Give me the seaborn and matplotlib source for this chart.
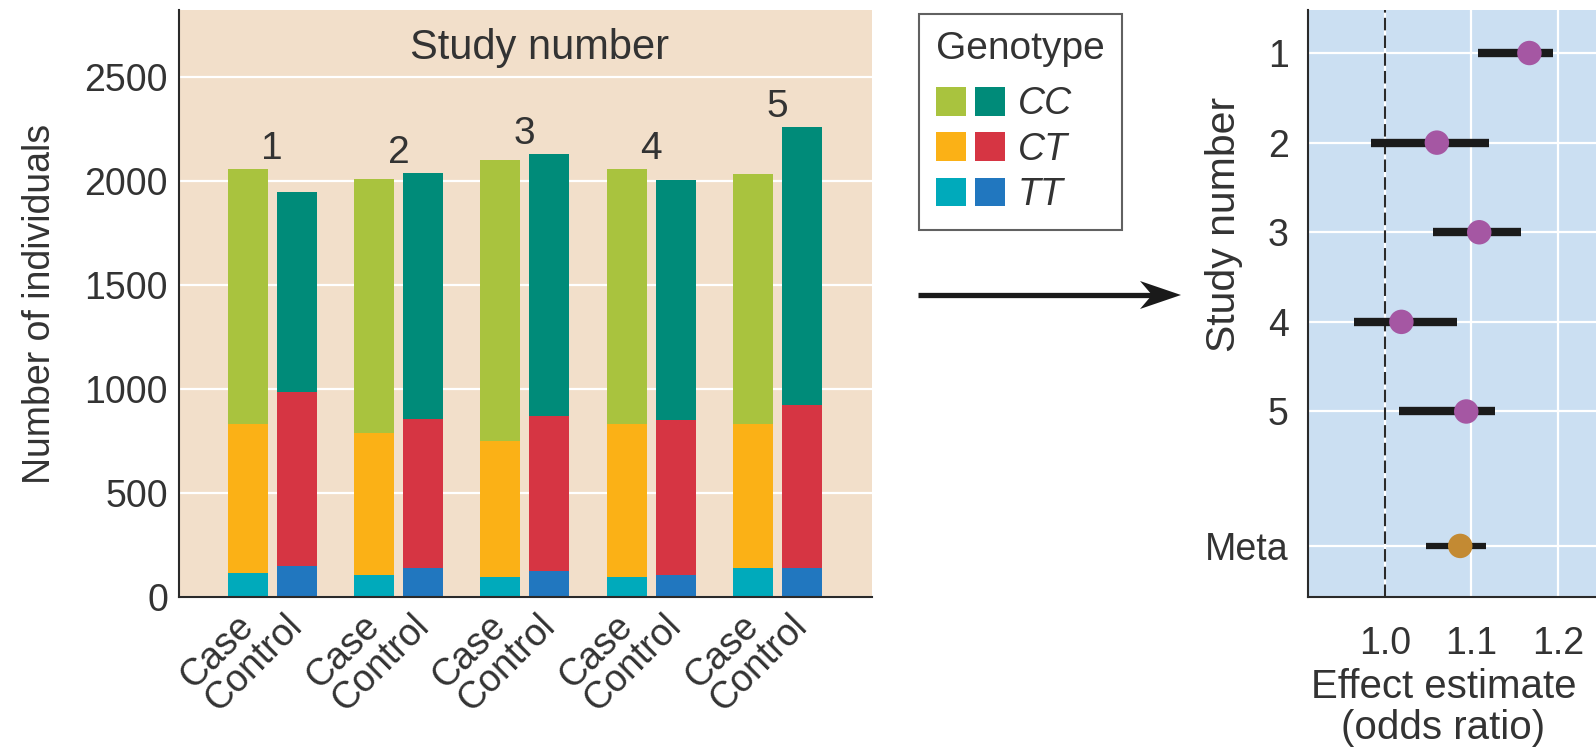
import matplotlib
matplotlib.use("Agg")
import matplotlib.pyplot as plt
import numpy as np
import pandas as pd
import seaborn as sns
from matplotlib.patches import Patch, Polygon
from matplotlib.lines import Line2D
from matplotlib.legend_handler import HandlerTuple

# ---- genotype counts per study ----
studies = ["1", "2", "3", "4", "5"]
case_tt = [115, 105, 97, 96, 137]
case_ct = [717, 685, 651, 733, 692]
case_cc = [1225, 1216, 1349, 1226, 1203]
control_tt = [147, 137, 125, 107, 137]
control_ct = [838, 718, 746, 743, 783]
control_cc = [960, 1183, 1257, 1152, 1340]

# ---- per-study effect estimates (odds ratio with CI) ----
forest_labels = ["1", "2", "3", "4", "5", "Meta"]
odds_ratio = [1.167, 1.060, 1.109, 1.019, 1.094, 1.087]
ci_low = [1.107, 0.984, 1.056, 0.964, 1.016, 1.048]
ci_high = [1.194, 1.120, 1.157, 1.083, 1.127, 1.117]

case_colors = {"CC": "#A9C33E", "CT": "#FBB116", "TT": "#00AABB"}
control_colors = {"CC": "#008B79", "CT": "#D63543", "TT": "#2177BF"}

sns.set_theme(style="white")
plt.rcParams["font.family"] = ["Liberation Sans", "DejaVu Sans"]
TXT = "#333333"
DARK = "#2a2a2a"
FS = 27

W, H = 1596, 748
fig = plt.figure(figsize=(W / 100, H / 100), dpi=100)


def rect(l, t, r, b):
    return [l / W, 1 - b / H, (r - l) / W, (b - t) / H]


def fx(px):
    return px / W


def fy(py):
    return 1 - py / H


ax1 = fig.add_axes(rect(179, 10, 872, 597))
ax2 = fig.add_axes(rect(1308, 10, 1596, 597))

# ---- stacked genotype bars ----
rows = []
for i, s in enumerate(studies):
    rows.append(dict(Study=s, Group="Case", TT=case_tt[i], CT=case_ct[i], CC=case_cc[i]))
    rows.append(dict(Study=s, Group="Control", TT=control_tt[i], CT=control_ct[i], CC=control_cc[i]))
df = pd.DataFrame(rows)
df["CT_top"] = df["TT"] + df["CT"]
df["total"] = df["CT_top"] + df["CC"]

for col, geno in [("total", "CC"), ("CT_top", "CT"), ("TT", "TT")]:
    sns.barplot(
        data=df, x="Study", y=col, hue="Group", order=studies,
        hue_order=["Case", "Control"],
        palette={"Case": case_colors[geno], "Control": control_colors[geno]},
        width=0.776, gap=0.18, dodge=True, errorbar=None, saturation=1,
        linewidth=0, legend=False, ax=ax1,
    )

ax1.set_facecolor("#F2DFCA")
ax1.set_xlim(-0.738, 4.749)
ax1.set_ylim(0, 2820)
ax1.set_yticks(np.arange(0, 2501, 500))
ax1.yaxis.grid(True, color="white", lw=1.6)
ax1.xaxis.grid(False)
ax1.set_axisbelow(True)

off = 0.194
xt = [i + d for i in range(len(studies)) for d in (-off, off)]
ax1.set_xticks(xt)
ax1.set_xticklabels(["Case", "Control"] * len(studies), rotation=45,
                    ha="right", va="center", rotation_mode="anchor",
                    fontsize=FS, color=TXT)
ax1.tick_params(axis="x", length=0, pad=17)
ax1.tick_params(axis="y", direction="in", length=14, width=1.5, color=DARK,
                pad=8, labelsize=FS, labelcolor=TXT)
for sp in ["top", "right"]:
    ax1.spines[sp].set_visible(False)
for sp in ["left", "bottom"]:
    ax1.spines[sp].set_color(DARK)
    ax1.spines[sp].set_linewidth(1.5)
ax1.set_xlabel("")
ax1.set_ylabel("Number of individuals", fontsize=FS, color=TXT)
ax1.yaxis.set_label_coords(-0.174, 0.5)

totals = df.pivot(index="Study", columns="Group", values="total").loc[studies]
for i, s in enumerate(studies):
    ax1.text(i, totals.loc[s].max() + 95, s, ha="center", va="center",
             fontsize=28, color=TXT)
ax1.text(2.12, 2638, "Study number", ha="center", va="center", fontsize=30, color=TXT)

# ---- forest plot ----
ypos = list(range(1, 6)) + [6.5]
ax2.set_facecolor("#CBDFF2")
ax2.grid(True, color="white", lw=1.6)
ax2.set_axisbelow(True)
ax2.axvline(1.0, color=DARK, lw=1.5, ls=(0, (6, 2.5)), zorder=1.5)
ax2.hlines(ypos[:5], ci_low[:5], ci_high[:5], color="#1b1b1b", lw=6, zorder=3)
ax2.hlines(ypos[5:], ci_low[5:], ci_high[5:], color="#1b1b1b", lw=4.5, zorder=3)
sns.scatterplot(x=odds_ratio[:5], y=ypos[:5], color="#A557A3", s=310,
                edgecolor="none", zorder=4, ax=ax2)
sns.scatterplot(x=odds_ratio[5:], y=ypos[5:], color="#C38A33", s=310,
                edgecolor="none", zorder=4, ax=ax2)
ax2.set_xlim(0.911, 1.244)
ax2.set_ylim(7.07, 0.52)
ax2.set_xticks([1.0, 1.1, 1.2])
ax2.set_xticklabels(["1.0", "1.1", "1.2"])
ax2.set_yticks(ypos)
ax2.set_yticklabels(forest_labels)
ax2.tick_params(axis="both", direction="in", length=15, width=1.5, color=DARK,
                labelsize=FS, labelcolor=TXT)
ax2.tick_params(axis="y", pad=14)
ax2.tick_params(axis="x", pad=21)
for sp in ["top", "right"]:
    ax2.spines[sp].set_visible(False)
for sp in ["left", "bottom"]:
    ax2.spines[sp].set_color(DARK)
    ax2.spines[sp].set_linewidth(1.5)
ax2.set_ylabel("Study number", fontsize=29.5, color=TXT)
ax2.yaxis.set_label_coords(-0.226, 0.635)
ax2.set_xlabel("Effect estimate\n(odds ratio)", fontsize=29, color=TXT,
               linespacing=1.1)
ax2.xaxis.label.set_x(0.47)

# ---- genotype legend ----
handles = [(Patch(facecolor=case_colors[g], edgecolor="none"),
            Patch(facecolor=control_colors[g], edgecolor="none")) for g in ["CC", "CT", "TT"]]
leg = fig.legend(handles, ["CC", "CT", "TT"],
                 handler_map={tuple: HandlerTuple(ndivide=None, pad=0.25)},
                 title="Genotype", loc="upper left",
                 bbox_to_anchor=(fx(919), fy(14)), bbox_transform=fig.transFigure,
                 borderaxespad=0, frameon=True, fancybox=False, edgecolor="#3a3a3a",
                 prop={"style": "italic", "size": FS}, title_fontsize=28,
                 handlelength=1.84, handleheight=0.8, handletextpad=0.35,
                 labelspacing=0.25, borderpad=0.45, alignment="left")
leg.get_frame().set_linewidth(1.5)
leg._legend_box.sep = 14
for t in leg.get_texts():
    t.set_color(TXT)
leg.get_title().set_color(TXT)

# ---- connecting arrow ----
fig.add_artist(Line2D([fx(918), fx(1155)], [fy(295), fy(295)],
                      transform=fig.transFigure, color="#1a1a1a", lw=3.8,
                      solid_capstyle="butt"))
head = [(1181, 295), (1140, 281), (1152, 295), (1140, 309)]
fig.add_artist(Polygon([(fx(x), fy(y)) for x, y in head], closed=True,
                       transform=fig.transFigure, facecolor="#1a1a1a",
                       edgecolor="none"))

fig.savefig("out.png", dpi=100)
